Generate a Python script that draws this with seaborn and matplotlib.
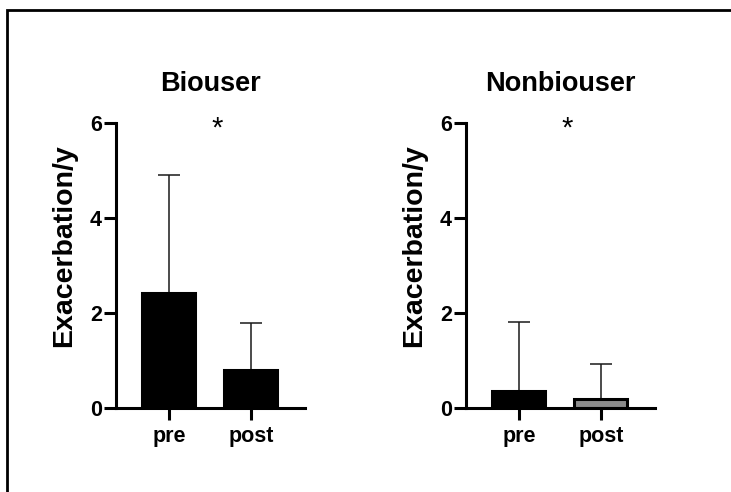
import matplotlib
matplotlib.use("Agg")
import matplotlib.pyplot as plt
import seaborn as sns
import pandas as pd
from matplotlib.patches import Rectangle

sns.set_theme(style="ticks")
plt.rcParams['font.family'] = ['Liberation Sans', 'DejaVu Sans']
plt.rcParams['font.weight'] = 'bold'
plt.rcParams['text.color'] = 'black'
plt.rcParams['axes.labelcolor'] = 'black'
plt.rcParams['xtick.color'] = 'black'
plt.rcParams['ytick.color'] = 'black'

categories = ["pre", "post"]
biouser_mean = [2.42, 0.81]
biouser_sd = [2.48, 0.99]
nonbiouser_mean = [0.36, 0.18]
nonbiouser_sd = [1.46, 0.74]
panel_titles = ["Biouser", "Nonbiouser"]
y_label = "Exacerbation/y"
y_ticks = [0, 2, 4, 6]
significance = "*"

fig = plt.figure(figsize=(7.31, 4.92), dpi=100)
fig.patch.set_facecolor("white")

W, H = 731, 492
panels = [
    (116, 305, biouser_mean, biouser_sd, panel_titles[0], ["black", "black"]),
    (466, 655, nonbiouser_mean, nonbiouser_sd, panel_titles[1], ["black", "#8c8c8c"]),
]
for (x0, x1, means, sds, title, colors) in panels:
    ax = fig.add_axes([x0 / W, (H - 408) / H, (x1 - x0) / W, 285 / H])
    df = pd.DataFrame({"cat": categories, "val": means})
    sns.barplot(data=df, x="cat", y="val", hue="cat", palette=colors, legend=False,
                width=0.646, edgecolor="black", linewidth=2.2, errorbar=None, ax=ax)
    ax.errorbar([0, 1], means, yerr=[[0, 0], sds], fmt="none", ecolor="#1a1a1a",
                elinewidth=1.1, capsize=8, capthick=1.1, zorder=1)
    for p in ax.patches:
        p.set_zorder(2)
    ax.set_xlim(-0.646, 1.659)
    ax.set_ylim(0, 6)
    ax.set_yticks(y_ticks)
    ax.set_yticklabels([str(t) for t in y_ticks], fontsize=15.5, fontweight="bold")
    ax.set_xticks([0, 1])
    ax.set_xticklabels(categories, fontsize=15.5, fontweight="bold")
    ax.set_xlabel("")
    ax.set_ylabel(y_label, fontsize=20.5, fontweight="bold", labelpad=9)
    ax.yaxis.label.set_y(0.57)
    ax.set_title(title, fontsize=19.5, fontweight="bold", pad=23)
    for s in ["top", "right"]:
        ax.spines[s].set_visible(False)
    for s in ["left", "bottom"]:
        ax.spines[s].set_linewidth(2.2)
        ax.spines[s].set_color("black")
    ax.tick_params(axis="y", width=2.2, length=8.5, color="black", pad=1.5)
    ax.tick_params(axis="x", width=2.2, length=8.5, color="black", pad=4.5)
    ax.text(0.59, 5.88, significance, ha="center", va="center", fontsize=21,
            fontweight="normal", color="black")
    ax.set_facecolor("white")

fig.add_artist(Rectangle((7 / W, -0.1), 1.2, (H - 10) / H + 0.1, fill=False,
                         linewidth=2, edgecolor="black", transform=fig.transFigure))

fig.savefig("out.png", dpi=100)
